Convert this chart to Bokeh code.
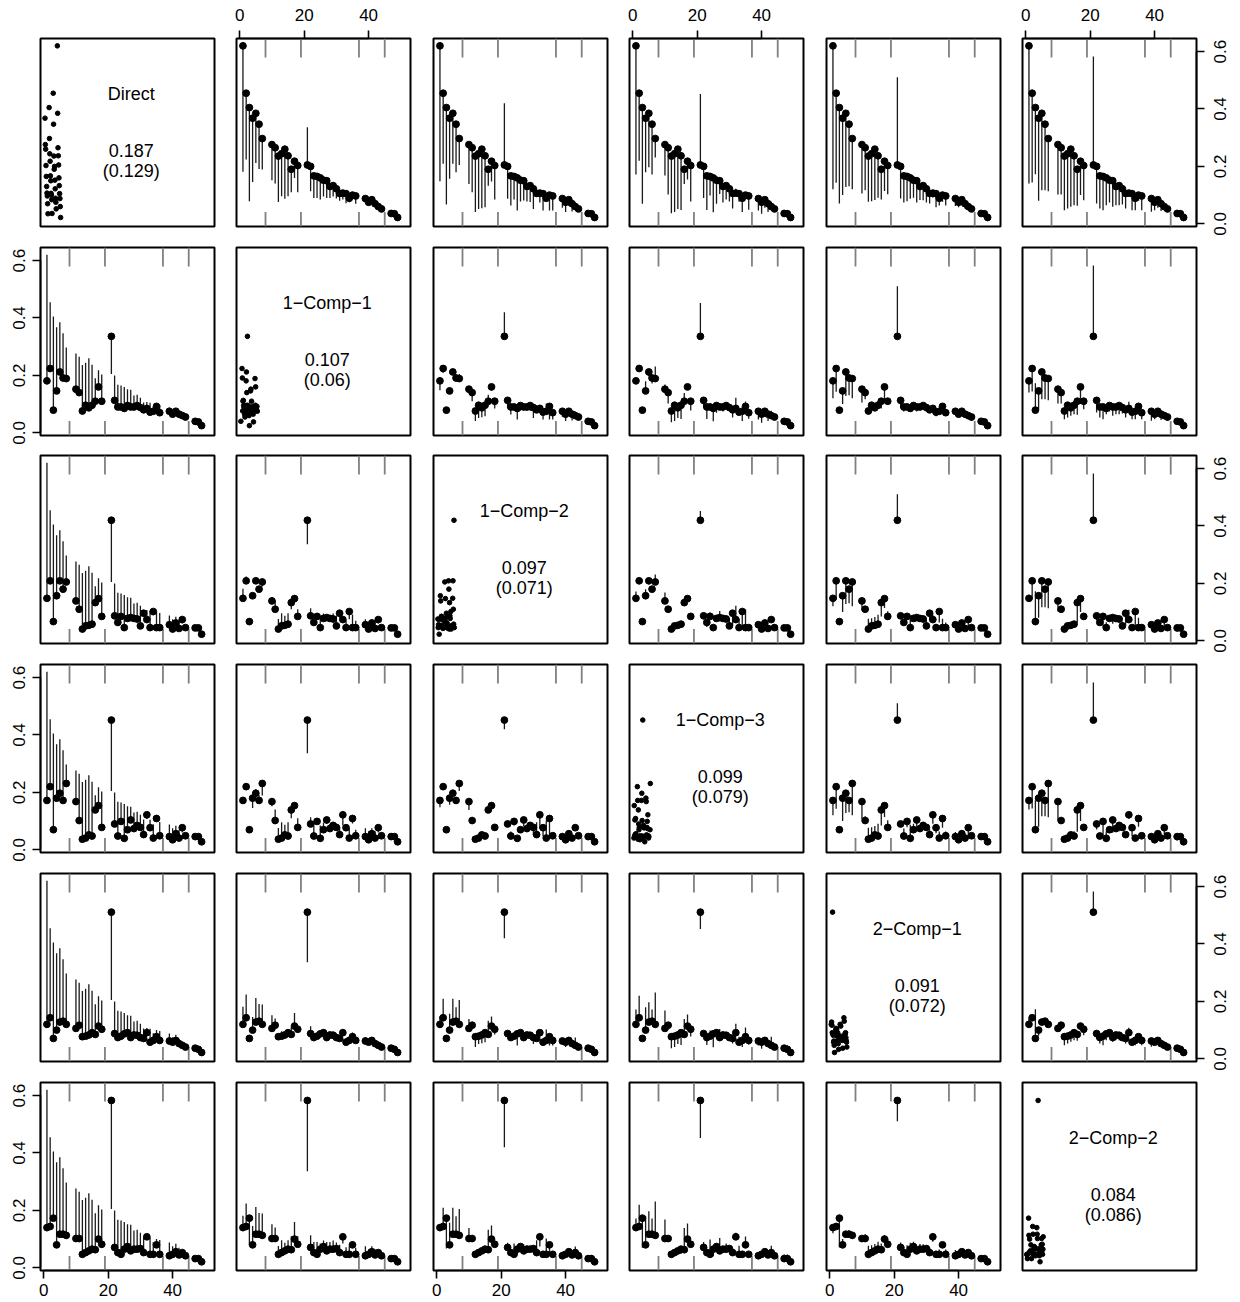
import math
import numpy as np
from bokeh.plotting import figure
from bokeh.layouts import gridplot
from bokeh.models import LinearAxis, FixedTicker, PrintfTickFormatter, Range1d
from bokeh.embed import file_html
from bokeh.resources import INLINE
from bokeh.core.properties import value

# ---------------- data ----------------
methods = ["Direct", "1\u2212Comp\u22121", "1\u2212Comp\u22122", "1\u2212Comp\u22123",
           "2\u2212Comp\u22121", "2\u2212Comp\u22122"]
mean_labels = ["0.187", "0.107", "0.097", "0.099", "0.091", "0.084"]
sd_labels = ["(0.129)", "(0.06)", "(0.071)", "(0.079)", "(0.072)", "(0.086)"]

item_index = [1, 2, 3, 4, 5, 6, 7,
              10, 11, 12, 13, 14, 15, 16, 17, 18,
              21, 22, 23, 24, 25, 26, 27, 28, 29, 30, 31, 32, 33, 34, 35, 36,
              39, 40, 41, 42, 43, 44,
              47, 48, 49]
group_breaks = [8, 19, 37, 45]
x_ticks = [0, 20, 40]
y_ticks = [0.0, 0.2, 0.4, 0.6]

direct = [0.620, 0.455, 0.405, 0.368, 0.385, 0.347, 0.297,
          0.276, 0.265, 0.236, 0.244, 0.260, 0.237, 0.190, 0.218, 0.203,
          0.205, 0.200, 0.167, 0.165, 0.160, 0.152, 0.150, 0.130, 0.133, 0.122, 0.106, 0.107, 0.105, 0.089, 0.100, 0.097,
          0.088, 0.075, 0.084, 0.070, 0.060, 0.052,
          0.036, 0.035, 0.022]
comp1_1 = [0.181, 0.224, 0.079, 0.146, 0.212, 0.191, 0.189,
           0.152, 0.140, 0.076, 0.096, 0.087, 0.096, 0.110, 0.160, 0.110,
           0.336, 0.113, 0.090, 0.090, 0.085, 0.095, 0.090, 0.090, 0.095, 0.088, 0.080, 0.085, 0.072, 0.075, 0.092, 0.070,
           0.075, 0.065, 0.075, 0.065, 0.060, 0.055,
           0.040, 0.038, 0.025]
comp1_2 = [0.148, 0.209, 0.067, 0.157, 0.209, 0.180, 0.205,
           0.139, 0.110, 0.041, 0.052, 0.054, 0.058, 0.133, 0.147, 0.085,
           0.420, 0.087, 0.064, 0.085, 0.046, 0.078, 0.081, 0.078, 0.076, 0.052, 0.096, 0.074, 0.046, 0.102, 0.046, 0.046,
           0.056, 0.041, 0.062, 0.043, 0.074, 0.046,
           0.045, 0.045, 0.023]
comp1_3 = [0.172, 0.220, 0.070, 0.180, 0.197, 0.172, 0.231,
           0.168, 0.102, 0.037, 0.041, 0.052, 0.048, 0.139, 0.154, 0.078,
           0.452, 0.090, 0.048, 0.099, 0.040, 0.070, 0.104, 0.074, 0.085, 0.078, 0.053, 0.122, 0.077, 0.041, 0.109, 0.049,
           0.046, 0.035, 0.056, 0.041, 0.077, 0.049,
           0.046, 0.046, 0.028]
comp2_1 = [0.120, 0.143, 0.071, 0.100, 0.128, 0.131, 0.120,
           0.106, 0.117, 0.077, 0.079, 0.083, 0.091, 0.085, 0.114, 0.103,
           0.511, 0.088, 0.074, 0.079, 0.087, 0.091, 0.074, 0.083, 0.082, 0.074, 0.071, 0.091, 0.058, 0.064, 0.077, 0.064,
           0.062, 0.058, 0.064, 0.053, 0.047, 0.041,
           0.037, 0.033, 0.022]
comp2_2 = [0.140, 0.144, 0.173, 0.080, 0.117, 0.117, 0.113,
           0.102, 0.102, 0.047, 0.053, 0.059, 0.065, 0.063, 0.100, 0.082,
           0.583, 0.071, 0.053, 0.047, 0.065, 0.074, 0.059, 0.065, 0.065, 0.067, 0.053, 0.108, 0.047, 0.047, 0.080, 0.047,
           0.042, 0.047, 0.056, 0.045, 0.053, 0.042,
           0.032, 0.032, 0.021]

series = [direct, comp1_1, comp1_2, comp1_3, comp2_1, comp2_2]

# ---------------- layout ----------------
X_LO, X_HI = -1.0, 53.0
Y_LO, Y_HI = -0.0094, 0.6456
FRAME_W, FRAME_H = 174, 188
col_left = [40, 12, 13, 12, 13, 12]
col_right = [10, 10, 10, 10, 10, 10]
row_top = [38, 11, 10, 10, 10, 11]
row_bottom = [10, 10, 11, 11, 10, 32]

FONT = "Liberation Sans"
TICK_FONT_SIZE = "17px"
n = len(methods)


def style_axis(ax, ticks, bounds, yfmt=False, orientation=None, standoff=3, show_labels=True):
    ax.ticker = FixedTicker(ticks=ticks)
    ax.bounds = bounds
    ax.axis_line_color = "black"
    ax.axis_line_width = 1.6
    ax.major_tick_line_color = "black"
    ax.major_tick_line_width = 1.6
    ax.major_tick_out = 8
    ax.major_tick_in = 0
    ax.minor_tick_out = 0
    ax.minor_tick_in = 0
    ax.minor_tick_line_color = None
    ax.major_label_text_font = FONT
    if show_labels:
        ax.major_label_text_font_size = TICK_FONT_SIZE
        ax.major_label_text_color = "black"
        ax.major_label_standoff = standoff
    else:
        ax.major_label_text_font_size = "0px"
        ax.major_label_text_color = None
        ax.major_label_standoff = 0
    if orientation is not None:
        ax.major_label_orientation = orientation
    if yfmt:
        ax.formatter = PrintfTickFormatter(format="%.1f")


def jitter_positions(m, count):
    k = np.arange(1, count + 1)
    frac = (k * 0.7548776662 + m * 0.5698402910) % 1.0
    return 0.3 + 5.2 * frac


grid = []
for i in range(n):
    row_figs = []
    for j in range(n):
        p = figure(frame_width=FRAME_W, frame_height=FRAME_H,
                   x_range=Range1d(X_LO, X_HI), y_range=Range1d(Y_LO, Y_HI),
                   x_axis_location=None, y_axis_location=None,
                   toolbar_location=None, tools="", output_backend="svg",
                   title=None)
        p.min_border_left = col_left[j]
        p.min_border_right = col_right[j]
        p.min_border_top = row_top[i]
        p.min_border_bottom = row_bottom[i]
        p.outline_line_color = "black"
        p.outline_line_width = 2
        p.background_fill_color = "white"
        p.border_fill_color = "white"
        p.grid.grid_line_color = None

        vi = series[i]
        if i == j:
            jx = jitter_positions(i, len(vi))
            p.scatter(jx, vi, size=4.6, color="black", line_color="black")
            xc = X_LO + 0.522 * (X_HI - X_LO)
            yr = Y_HI - Y_LO
            p.text(x=[xc], y=[Y_LO + 0.706 * yr], text=[methods[i]],
                   text_font=value(FONT), text_font_size="18px",
                   text_align="center", text_baseline="middle", text_color="black")
            p.text(x=[xc, xc], y=[Y_LO + 0.405 * yr, Y_LO + 0.297 * yr],
                   text=[mean_labels[i], sd_labels[i]],
                   text_font=value(FONT), text_font_size="18px",
                   text_align="center", text_baseline="middle", text_color="black")
        else:
            vj = series[j]
            # group separator ticks (inward from top and bottom)
            top_len = 19.0 / FRAME_H * (Y_HI - Y_LO)
            bot_len = 14.5 / FRAME_H * (Y_HI - Y_LO)
            nb = len(group_breaks)
            p.segment(x0=group_breaks, y0=[Y_HI] * nb, x1=group_breaks, y1=[Y_HI - top_len] * nb,
                      line_color="#808080", line_width=1.8)
            p.segment(x0=group_breaks, y0=[Y_LO] * nb, x1=group_breaks, y1=[Y_LO + bot_len] * nb,
                      line_color="#808080", line_width=1.8)
            p.segment(x0=item_index, y0=vi, x1=item_index, y1=vj,
                      line_color="#1a1a1a", line_width=1.3)
            p.scatter(item_index, vi, size=6.8, color="black", line_color="black")

        # axes, R pairs style
        if i == 0 and j % 2 == 1:
            ax = LinearAxis()
            style_axis(ax, x_ticks, (0, 40), standoff=10)
            p.add_layout(ax, "above")
        if i == n - 1 and j % 2 == 0:
            ax = LinearAxis()
            style_axis(ax, x_ticks, (0, 40), standoff=5)
            p.add_layout(ax, "below")
        if j == n - 1 and i % 2 == 0:
            ax = LinearAxis()
            style_axis(ax, y_ticks, (0, 0.6), show_labels=False)
            p.add_layout(ax, "right")
        if j == 0 and i % 2 == 1:
            ax = LinearAxis()
            style_axis(ax, y_ticks, (0, 0.6), yfmt=True, orientation="vertical", standoff=7)
            p.add_layout(ax, "left")
        row_figs.append(p)

    # narrow strip right of the last column carrying the tick labels of the
    # right-hand y axis (parallel to the axis, reading bottom-to-top as in R)
    if i % 2 == 0:
        s = figure(frame_width=4, frame_height=FRAME_H,
                   x_range=Range1d(0, 1), y_range=Range1d(Y_LO, Y_HI),
                   x_axis_location=None, y_axis_location=None,
                   toolbar_location=None, tools="", output_backend="svg", title=None)
        s.min_border_left = 22
        s.min_border_right = 0
        s.min_border_top = row_top[i]
        s.min_border_bottom = row_bottom[i]
        s.outline_line_color = None
        s.background_fill_color = "white"
        s.border_fill_color = "white"
        s.grid.grid_line_color = None
        lab_ax = LinearAxis()
        style_axis(lab_ax, y_ticks, (0, 0.6), yfmt=True, orientation="vertical", standoff=2)
        lab_ax.axis_line_color = None
        lab_ax.major_tick_line_color = None
        lab_ax.major_tick_out = 0
        s.add_layout(lab_ax, "left")
        row_figs.append(s)
    else:
        row_figs.append(None)
    grid.append(row_figs)

layout = gridplot(grid, toolbar_location=None)
open("out.html", "w").write(file_html(layout, INLINE))
